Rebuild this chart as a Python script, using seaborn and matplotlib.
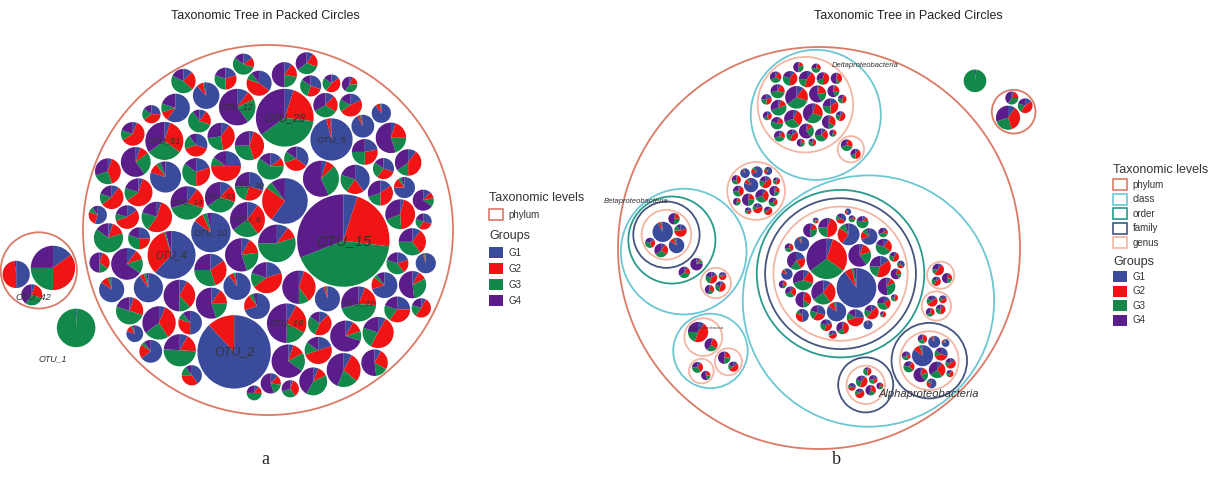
import numpy as np
import matplotlib
matplotlib.use("Agg")
import matplotlib.pyplot as plt
from matplotlib.patches import Circle, Patch
import seaborn as sns

sns.set_theme(style="white")
plt.rcParams["font.family"] = ["Liberation Sans", "DejaVu Sans"]

groups = ["G1", "G2", "G3", "G4"]
group_colors = sns.color_palette(["#3B4B9B", "#F01414", "#12894A", "#5A1D8A"])
levels = ["phylum", "class", "order", "family", "genus"]
level_colors = ["#DB7A66", "#6CC7D3", "#2A9A8E", "#44557F", "#F3B6A3"]

# ---------------- panel a : phylum -> OTU ----------------
paths_a = [("p_main",), ("p_small",), ("p_single",)]
counts_a = [100, 3, 1]
abund_a = [330, 380, 560, 300, 420, 260, 2300, 220, 300, 250,
           200, 280, 190, 350, 240, 300, 180, 420, 160, 230,
           620, 260, 210, 170, 250, 1450, 900, 230, 270, 150,
           480, 200, 300, 140, 260, 330, 180, 210, 360, 150,
           280, 170, 230, 390, 130, 260, 200, 140, 180, 300,
           160, 240, 190, 270, 120, 200, 150, 220, 310, 130,
           240, 170, 140, 200, 260, 110, 180, 230, 120, 190,
           210, 140, 170, 250, 120, 150, 200, 110, 160, 180,
           100, 170, 130, 150, 120, 140, 190, 90, 130, 110,
           80, 120, 70, 100, 90, 60, 110, 75, 85, 65,
           530, 200, 120, 400]
g1_a = [10, 10, 60, 8, 85, 20, 5, 30, 5, 12, 90, 15, 15, 5, 25, 10, 70, 8, 35, 5,
        62, 10, 20, 95, 5, 88, 5, 40, 8, 12, 96, 10, 5, 30, 80, 6, 22, 5, 10, 50,
        8, 15, 90, 5, 25, 8, 20, 10, 70, 6, 12, 4, 88, 10, 30, 5, 15, 60, 8, 20,
        5, 35, 92, 10, 8, 12, 25, 5, 75, 10, 6, 18, 85, 5, 30, 10, 8, 40, 12, 5,
        90, 10, 20, 6, 15, 65, 8, 25, 10, 95, 5, 12, 30, 8, 55, 10, 5, 80, 15, 7,
        15, 50, 5, 1]
g2_a = [30, 10, 25, 15, 8, 45, 22, 25, 35, 18, 6, 30, 10, 8, 50, 20, 20, 25, 35, 40,
        33, 15, 30, 3, 55, 12, 22, 20, 30, 45, 3, 38, 12, 40, 10, 20, 28, 60, 8, 30,
        18, 35, 5, 30, 25, 12, 50, 20, 15, 35, 22, 45, 8, 10, 30, 25, 55, 10, 28, 20,
        10, 45, 4, 30, 50, 15, 35, 15, 15, 40, 12, 48, 10, 20, 25, 55, 10, 35, 25, 40,
        8, 18, 30, 60, 15, 20, 25, 40, 20, 2, 35, 10, 30, 52, 25, 15, 30, 12, 45, 18,
        35, 48, 25, 0]
g3_a = [25, 55, 5, 22, 4, 15, 42, 20, 10, 35, 2, 30, 60, 30, 10, 40, 5, 17, 15, 30,
        1, 20, 35, 1, 20, 0, 38, 20, 12, 28, 0, 25, 18, 20, 5, 45, 25, 15, 22, 10,
        50, 20, 3, 30, 30, 10, 15, 60, 5, 24, 33, 20, 2, 15, 25, 50, 10, 10, 20, 40,
        25, 10, 2, 35, 22, 18, 20, 65, 5, 15, 40, 17, 3, 20, 30, 15, 30, 15, 45, 25,
        1, 22, 30, 14, 55, 5, 15, 20, 35, 2, 30, 13, 20, 20, 10, 50, 15, 4, 25, 35,
        25, 0, 30, 99]
g4_a = [35, 25, 10, 55, 3, 20, 31, 25, 50, 35, 2, 25, 15, 57, 15, 30, 5, 50, 15, 25,
        4, 55, 15, 1, 20, 0, 35, 20, 50, 15, 1, 27, 65, 10, 5, 29, 25, 20, 60, 10,
        24, 30, 2, 35, 20, 70, 15, 10, 10, 35, 33, 31, 2, 65, 15, 20, 20, 20, 44, 20,
        60, 10, 2, 25, 20, 55, 20, 15, 5, 35, 42, 17, 2, 55, 15, 20, 52, 10, 18, 30,
        1, 50, 20, 20, 15, 10, 52, 15, 35, 1, 30, 65, 20, 20, 10, 25, 50, 4, 15, 40,
        25, 2, 40, 0]
otu_labels_a = {6: "OTU_15", 25: "OTU_2", 20: "OTU_4", 30: "OTU_5", 26: "OTU_28",
                17: "OTU_16", 43: "OTU_51", 0: "OTU_6", 7: "OTU_30", 35: "OTU_22",
                38: "OTU_12", 9: "OTU_33", 4: "OTU_10", 15: "OTU_14",
                100: "OTU_42", 103: "OTU_1"}
label_shift_a = {"OTU_42": (-0.9, -1.3), "OTU_1": (-1.2, -1.6)}

# ---------------- panel b : phylum -> class -> order -> family -> genus -> OTU ----------------
paths_b = [
    ("Proteobacteria", "Alphaproteobacteria", "o_a1", "f_a1", "g_a1"),
    ("Proteobacteria", "Alphaproteobacteria", "", "f_a2", "g_a2"),
    ("Proteobacteria", "Alphaproteobacteria", "", "f_a3", "g_a3"),
    ("Proteobacteria", "Alphaproteobacteria", "", "", "g_a4"),
    ("Proteobacteria", "Alphaproteobacteria", "", "", "g_a5"),
    ("Proteobacteria", "Betaproteobacteria", "o_b1", "f_b1", "g_b1"),
    ("Proteobacteria", "Betaproteobacteria", "o_b1", "", ""),
    ("Proteobacteria", "Betaproteobacteria", "", "", "g_b2"),
    ("Proteobacteria", "", "", "", "g_x1"),
    ("Proteobacteria", "Gammaproteobacteria", "", "", "g_c1"),
    ("Proteobacteria", "Gammaproteobacteria", "", "", "g_c2"),
    ("Proteobacteria", "Gammaproteobacteria", "", "", "g_c3"),
    ("Proteobacteria", "Deltaproteobacteria", "", "", "g_d1"),
    ("Proteobacteria", "Deltaproteobacteria", "", "", "g_d2"),
    ("p_2", "", "", "", ""),
    ("p_3", "", "", "", ""),
]
counts_b = [40, 7, 12, 4, 3, 6, 2, 4, 16, 2, 2, 2, 28, 2, 3, 1]
abund_b = [480, 460, 170, 150, 140, 130, 120, 110, 105, 95, 90, 85, 80, 76, 72, 68, 64, 60, 56, 52,
           49, 46, 43, 40, 37, 35, 33, 30, 28, 26, 24, 22, 20, 18, 17, 15, 14, 12, 11, 10,
           40, 32, 26, 22, 20, 17, 14,
           130, 80, 62, 50, 42, 36, 32, 28, 25, 22, 18, 15,
           35, 28, 22, 18,
           40, 30, 25,
           120, 70, 55, 45, 38, 30,
           45, 38,
           40, 32, 25, 18,
           60, 52, 45, 42, 38, 34, 31, 29, 27, 25, 23, 21, 19, 17, 15, 13,
           120, 50, 45, 30, 35, 25,
           150, 115, 95, 85, 78, 73, 70, 65, 62, 58, 54, 50, 46, 45, 42, 40, 38, 37, 35, 32,
           31, 28, 25, 23, 22, 19, 17, 15,
           40, 30,
           170, 64, 50,
           150]
g1_b = [5, 90, 10, 5, 60, 15, 10, 85, 5, 20, 8, 25, 70, 10, 5, 30, 90, 12, 8, 15,
        50, 5, 10, 20, 80, 10, 6, 35, 10, 15, 95, 5, 20, 10, 40, 8, 12, 60, 5, 25,
        10, 5, 15, 20, 8, 30, 10,
        85, 10, 5, 30, 90, 10, 15, 60, 5, 20, 80, 10,
        15, 10, 5, 20,
        10, 8, 15,
        92, 85, 10, 20, 5, 15,
        8, 10,
        15, 10, 5, 20,
        80, 10, 5, 15, 70, 8, 10, 20, 90, 5, 15, 10, 60, 5, 12, 25,
        10, 5, 5, 15, 10, 5,
        10, 5, 8, 3, 10, 5, 15, 5, 10, 8, 5, 12, 5, 10, 5, 15, 8, 5, 10, 20,
        5, 10, 5, 15, 8, 5, 10, 5,
        5, 10,
        10, 15, 5,
        2]
g2_b = [30, 6, 30, 15, 25, 40, 20, 10, 45, 20, 10, 45, 15, 25, 30, 30, 5, 50, 15, 25,
        30, 40, 10, 35, 10, 30, 20, 35, 45, 15, 3, 35, 50, 20, 30, 40, 18, 20, 50, 25,
        45, 30, 55, 25, 40, 40, 20,
        10, 30, 15, 40, 5, 25, 50, 20, 35, 20, 10, 45,
        50, 40, 35, 45,
        50, 20, 45,
        4, 8, 25, 55, 20, 30,
        5, 20,
        40, 45, 30, 50,
        10, 30, 20, 45, 15, 35, 20, 50, 5, 40, 25, 55, 20, 20, 40, 30,
        45, 30, 20, 50, 30, 20,
        20, 25, 30, 20, 45, 15, 35, 10, 40, 20, 30, 25, 45, 15, 20, 40, 25, 35, 20, 30,
        15, 45, 25, 30, 40, 20, 35, 30,
        25, 40,
        35, 45, 20,
        0]
g3_b = [30, 2, 25, 20, 10, 20, 40, 3, 25, 20, 30, 15, 10, 45, 15, 20, 3, 18, 25, 35,
        10, 20, 60, 25, 5, 30, 14, 15, 25, 40, 1, 30, 10, 20, 15, 32, 50, 10, 20, 25,
        25, 20, 15, 30, 40, 15, 25,
        3, 25, 20, 15, 3, 45, 15, 10, 30, 30, 5, 25,
        20, 30, 25, 20,
        15, 20, 25,
        2, 4, 30, 15, 25, 35,
        10, 35,
        25, 25, 20, 15,
        5, 30, 25, 20, 10, 30, 20, 15, 3, 25, 35, 15, 10, 30, 28, 25,
        20, 25, 25, 15, 35, 20,
        35, 30, 32, 20, 20, 50, 25, 25, 30, 45, 15, 38, 20, 55, 20, 25, 35, 10, 40, 25,
        30, 25, 45, 20, 30, 25, 35, 20,
        40, 20,
        25, 20, 35,
        98]
g4_b = [35, 2, 35, 60, 5, 25, 30, 2, 25, 40, 52, 15, 5, 20, 50, 20, 2, 20, 52, 25,
        10, 35, 20, 20, 5, 30, 60, 15, 20, 30, 1, 30, 20, 50, 15, 20, 20, 10, 25, 25,
        20, 45, 15, 25, 12, 15, 45,
        2, 35, 60, 15, 2, 20, 20, 10, 30, 30, 5, 20,
        15, 20, 35, 15,
        25, 52, 15,
        2, 3, 35, 10, 50, 20,
        77, 35,
        20, 20, 45, 15,
        5, 30, 50, 20, 5, 27, 50, 15, 2, 30, 25, 20, 10, 45, 20, 20,
        25, 40, 50, 20, 25, 55,
        35, 40, 30, 57, 25, 30, 25, 60, 20, 27, 50, 25, 30, 20, 55, 20, 32, 50, 30, 25,
        50, 20, 25, 35, 22, 50, 20, 45,
        30, 30,
        30, 20, 40,
        0]
pack_order_b = ["g_x1", "Alphaproteobacteria", "Betaproteobacteria", "Deltaproteobacteria",
                "Gammaproteobacteria", "o_a1", "f_a3", "f_a2", "g_a4", "g_a5"]
# class label: (angle in degrees, distance / radius, font size)
class_labels_b = {"Alphaproteobacteria": (-57, 0.88, 8),
                  "Betaproteobacteria": (134, 1.1, 5.5),
                  "Deltaproteobacteria": (45, 1.08, 5.5),
                  "Gammaproteobacteria": (100, 0.62, 2.5)}


# ---------------- circle packing (front-chain, as in d3.pack) ----------------
class Link:
    def __init__(self, c):
        self.c = c
        self.next = None
        self.prev = None


def place(b, a, c):
    dx, dy = b[0] - a[0], b[1] - a[1]
    d2 = dx * dx + dy * dy
    if d2:
        a2 = (a[2] + c[2]) ** 2
        b2 = (b[2] + c[2]) ** 2
        if a2 > b2:
            x = (d2 + b2 - a2) / (2 * d2)
            y = np.sqrt(max(0.0, b2 / d2 - x * x))
            c[0] = b[0] - x * dx - y * dy
            c[1] = b[1] - x * dy + y * dx
        else:
            x = (d2 + a2 - b2) / (2 * d2)
            y = np.sqrt(max(0.0, a2 / d2 - x * x))
            c[0] = a[0] + x * dx - y * dy
            c[1] = a[1] + x * dy + y * dx
    else:
        c[0] = a[0] + c[2]
        c[1] = a[1]


def intersects(a, b):
    dr = a[2] + b[2] - 1e-6
    dx, dy = b[0] - a[0], b[1] - a[1]
    return dr > 0 and dr * dr > dx * dx + dy * dy


def score(node):
    a, b = node.c, node.next.c
    ab = a[2] + b[2]
    dx = (a[0] * b[2] + b[0] * a[2]) / ab
    dy = (a[1] * b[2] + b[1] * a[2]) / ab
    return dx * dx + dy * dy


def pack_siblings(circles):
    n = len(circles)
    if n == 0:
        return
    a = circles[0]
    a[0], a[1] = 0.0, 0.0
    if n == 1:
        return
    b = circles[1]
    a[0] = -b[2]
    b[0], b[1] = a[2], 0.0
    if n == 2:
        return
    place(b, a, circles[2])
    a, b, c = Link(a), Link(b), Link(circles[2])
    a.next = c.prev = b
    b.next = a.prev = c
    c.next = b.prev = a
    i = 3
    while i < n:
        place(a.c, b.c, circles[i])
        c = Link(circles[i])
        j, k = b.next, a.prev
        sj, sk = b.c[2], a.c[2]
        hit = False
        while True:
            if sj <= sk:
                if intersects(j.c, c.c):
                    b = j
                    a.next = b
                    b.prev = a
                    hit = True
                    break
                sj += j.c[2]
                j = j.next
            else:
                if intersects(k.c, c.c):
                    a = k
                    a.next = b
                    b.prev = a
                    hit = True
                    break
                sk += k.c[2]
                k = k.prev
            if j is k.next:
                break
        if hit:
            continue
        c.prev = a
        c.next = b
        a.next = c
        b.prev = c
        b = c
        aa = score(a)
        c = c.next
        while c is not b:
            ca = score(c)
            if ca < aa:
                a, aa = c, ca
            c = c.next
        b = a.next
        i += 1


def enclose(circles):
    arr = np.asarray(circles, dtype=float)
    if len(arr) == 1:
        return arr[0, 0], arr[0, 1], arr[0, 2]
    xy, r = arr[:, :2], arr[:, 2]

    def spread(pts):
        d = np.sqrt(((pts[:, None, :] - xy[None, :, :]) ** 2).sum(-1)) + r
        return d.max(1)

    c = (xy * r[:, None] ** 2).sum(0) / (r ** 2).sum()
    best = spread(c[None])[0]
    step = best * 0.25
    ang = np.linspace(0, 2 * np.pi, 72, endpoint=False)
    dirs = np.c_[np.cos(ang), np.sin(ang)]
    while step > best * 1e-7:
        cand = c + step * dirs
        vals = spread(cand)
        i = vals.argmin()
        if vals[i] < best:
            c, best = cand[i], vals[i]
        else:
            step *= 0.5
    return c[0], c[1], best


def subtree(node):
    out = [node]
    for c in node["children"]:
        out += subtree(c)
    return out


def build_tree(paths, counts, abund, order=()):
    root = {"name": "root", "level": -1, "children": []}
    k = 0
    for path, n in zip(paths, counts):
        node = root
        for lev, name in enumerate(path):
            if not name:
                continue
            child = next((c for c in node["children"]
                          if c.get("name") == name and c["level"] == lev), None)
            if child is None:
                child = {"name": name, "level": lev, "children": []}
                node["children"].append(child)
            node = child
        for _ in range(n):
            node["children"].append({"leaf": k, "level": 5, "children": [],
                                     "r": np.sqrt(abund[k])})
            k += 1
    order = list(order)
    for node in subtree(root):
        node["children"].sort(key=lambda c: order.index(c["name"])
                              if c.get("name") in order else len(order))
    return root


def pack(node, root_pad, chain_pad, node_pad, leaf_pad=0.8):
    kids = node["children"]
    if not kids:
        return
    for c in kids:
        pack(c, root_pad, chain_pad, node_pad, leaf_pad)
    if node["level"] < 0:
        pad = root_pad
    elif all(not c["children"] for c in kids):
        pad = leaf_pad
    elif len(kids) == 1:
        pad = chain_pad
    else:
        pad = node_pad
    circles = [[0.0, 0.0, c["r"] + pad] for c in kids]
    pack_siblings(circles)
    ex, ey, er = enclose(circles)
    for c, cc in zip(kids, circles):
        c["dx"], c["dy"] = cc[0] - ex, cc[1] - ey
    node["r"] = er + pad


def place_abs(node, x=0.0, y=0.0):
    node["x"], node["y"] = x, y
    for c in node["children"]:
        place_abs(c, x + c["dx"], y + c["dy"])


def find(node, name):
    return next(n for n in subtree(node) if n.get("name") == name)


def find_leaf(node, k):
    return next(n for n in subtree(node) if n.get("leaf") == k)


def orient(nodes, pivot, ref, target_deg, second, second_ccw):
    px, py = pivot["x"], pivot["y"]
    t = np.deg2rad(target_deg)
    rot = t - np.arctan2(ref["y"] - py, ref["x"] - px)

    def apply(m):
        for n in nodes:
            vx, vy = n["x"] - px, n["y"] - py
            n["x"] = px + m[0][0] * vx + m[0][1] * vy
            n["y"] = py + m[1][0] * vx + m[1][1] * vy

    apply([[np.cos(rot), -np.sin(rot)], [np.sin(rot), np.cos(rot)]])
    ang = np.arctan2(second["y"] - py, second["x"] - px) - t
    ang = (ang + np.pi) % (2 * np.pi) - np.pi
    if (ang > 0) != second_ccw:
        c2, s2 = np.cos(2 * t), np.sin(2 * t)
        apply([[c2, s2], [s2, -c2]])


# ---------------- figure ----------------
fig = plt.figure(figsize=(12.08, 4.98), dpi=100)
ax = fig.add_axes([0, 0, 1, 1])


def draw_panel(root, main, centre, radius, comps, labels=None, shifts=None, class_labels=None):
    labels = labels or {}
    shifts = shifts or {}
    class_labels = class_labels or {}
    s = radius / main["r"]
    for n in subtree(root)[1:]:
        x = centre[0] + s * (n["x"] - main["x"])
        y = centre[1] + s * (n["y"] - main["y"])
        r = s * n["r"]
        if "leaf" in n:
            k = n["leaf"]
            ax.pie(comps[k], colors=group_colors, center=(x, y), radius=r,
                   startangle=90, counterclock=False, frame=True,
                   wedgeprops=dict(linewidth=0))
            if k in labels:
                name = labels[k]
                sx, sy = shifts.get(name, (0, 0))
                ax.text(x + sx * r, y + sy * r, name, fontsize=3.5 + 0.15 * r,
                        style="italic", color="#333333", ha="center", va="center", zorder=5)
        else:
            kids = n["children"]
            if len(kids) == 1 and "leaf" in kids[0]:
                continue
            ax.add_patch(Circle((x, y), r, fill=False, ec=level_colors[n["level"]],
                                lw=1.3, zorder=1))
            if n["name"] in class_labels:
                a, d, fs = class_labels[n["name"]]
                a = np.deg2rad(a)
                ax.text(x + d * r * np.cos(a), y + d * r * np.sin(a), n["name"],
                        fontsize=fs, style="italic", color="#333333",
                        ha="center", va="center", zorder=5)


# panel a
comps_a = np.c_[g1_a, g2_a, g3_a, g4_a]
tree_a = build_tree(paths_a, counts_a, abund_a)
pack(tree_a, root_pad=5, chain_pad=3, node_pad=3)
place_abs(tree_a)
main_a = find(tree_a, "p_main")
orient(subtree(tree_a), main_a, find(tree_a, "p_small"), 190, find(tree_a, "p_single"), True)
orient(subtree(main_a), main_a, find_leaf(tree_a, 6), -8, find_leaf(tree_a, 25), False)
draw_panel(tree_a, main_a, (268, 268), 185, comps_a, otu_labels_a, label_shift_a)

# panel b
comps_b = np.c_[g1_b, g2_b, g3_b, g4_b]
tree_b = build_tree(paths_b, counts_b, abund_b, pack_order_b)
pack(tree_b, root_pad=8, chain_pad=4.5, node_pad=1.5)
place_abs(tree_b)
main_b = find(tree_b, "Proteobacteria")
orient(subtree(tree_b), main_b, find(tree_b, "p_2"), 35, find(tree_b, "p_3"), True)
orient(subtree(main_b), main_b, find(tree_b, "Alphaproteobacteria"), -47,
       find(tree_b, "Deltaproteobacteria"), True)
draw_panel(tree_b, main_b, (819, 250), 201, comps_b, class_labels=class_labels_b)

ax.set_xlim(0, 1208)
ax.set_ylim(0, 498)
ax.axis("off")

for xc in (265, 908):
    ax.text(xc, 482, "Taxonomic Tree in Packed Circles", fontsize=9, color="#222222",
            ha="center", va="center")
ax.text(265, 38, "a", fontsize=13, family=["Liberation Serif", "DejaVu Serif"], ha="center", va="center")
ax.text(836, 38, "b", fontsize=13, family=["Liberation Serif", "DejaVu Serif"], ha="center", va="center")


def add_legends(x, y_levels, y_groups, n_levels, spacing):
    common = dict(loc="upper left", frameon=False, fontsize=7, title_fontsize=9,
                  alignment="left", handlelength=1.4, handleheight=1.4, handletextpad=0.6,
                  labelspacing=spacing, borderpad=0, borderaxespad=0, labelcolor="#333333")
    h1 = [Patch(facecolor="white", edgecolor=level_colors[i], linewidth=1.2, label=levels[i])
          for i in range(n_levels)]
    leg = fig.legend(handles=h1, title="Taxonomic levels",
                     bbox_to_anchor=(x / 1208, 1 - y_levels / 498), **common)
    leg.get_title().set_color("#333333")
    h2 = [Patch(facecolor=group_colors[i], edgecolor="none", label=groups[i]) for i in range(4)]
    leg = fig.legend(handles=h2, title="Groups",
                     bbox_to_anchor=(x / 1208, 1 - y_groups / 498), **common)
    leg.get_title().set_color("#333333")


add_legends(489, 192, 230, 1, 0.5)
add_legends(1113, 164, 256, 5, 0.33)

fig.savefig("out.png", dpi=100)
